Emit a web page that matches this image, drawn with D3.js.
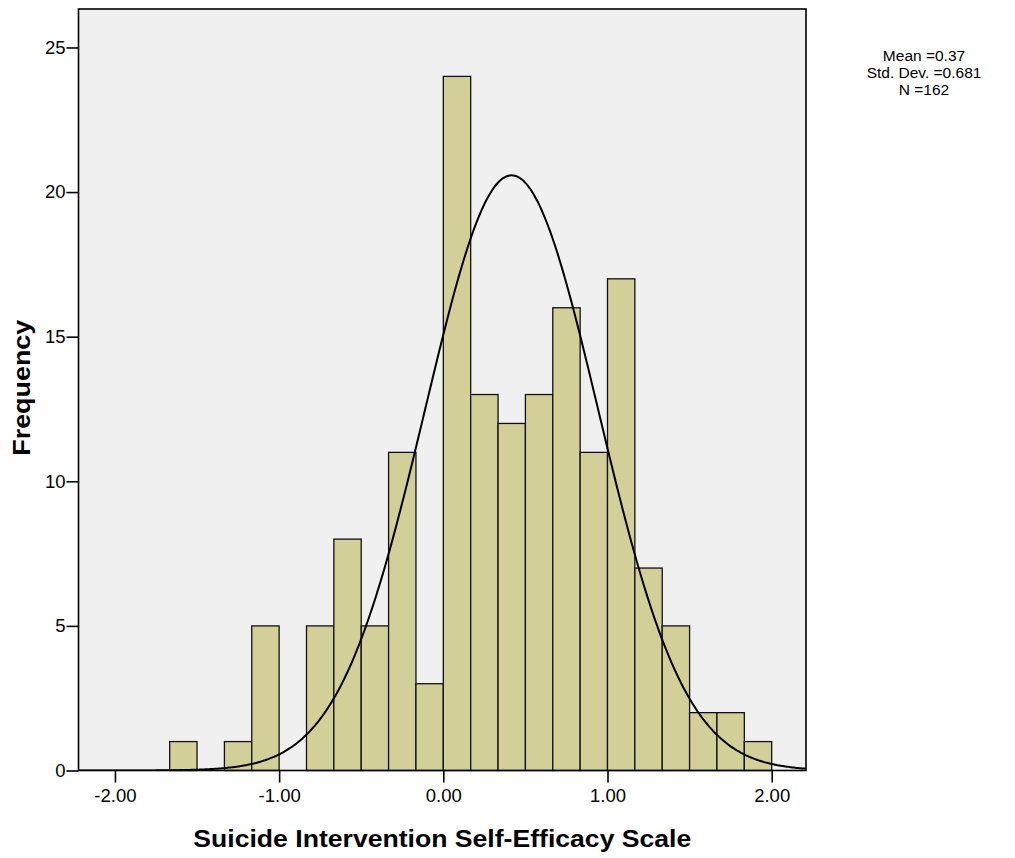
<!DOCTYPE html>
<html>
<head>
<meta charset="utf-8">
<script src="https://cdn.jsdelivr.net/npm/d3@7"></script>
<style>
  html, body { margin: 0; padding: 0; background: #ffffff; }
  svg { display: block; font-family: "Liberation Sans", Arial, sans-serif; }
</style>
</head>
<body>
<svg id="chart" width="1015" height="858"></svg>
<script>
// Histogram bins: lower edge of each bin (width 1/6) and its count
const binStart = [-1.6667, -1.5, -1.3333, -1.1667, -1.0, -0.8333, -0.6667, -0.5, -0.3333, -0.1667,
                  0.0, 0.1667, 0.3333, 0.5, 0.6667, 0.8333, 1.0, 1.1667, 1.3333, 1.5, 1.6667, 1.8333];
const binCount = [1, 0, 1, 5, 0, 5, 8, 5, 11, 3,
                  24, 13, 12, 13, 16, 11, 17, 7, 5, 2, 2, 1];
const binWidth = 1 / 6;

// Axis ticks
const xTicks = [-2, -1, 0, 1, 2];
const yTicks = [0, 5, 10, 15, 20, 25];

// Summary statistics shown at the top right
const statLines = ["Mean =0.37", "Std. Dev. =0.681", "N =162"];

// Fitted normal curve as drawn on the axis (centre, spread, peak height)
const curveCentre = 0.416;
const curveSpread = 0.527;
const curvePeak = 20.58;

const svg = d3.select("#chart");
const plot = { left: 78.5, right: 806, top: 9, bottom: 770.5 };

const x = d3.scaleLinear().domain([-2.222, 2.209]).range([plot.left, plot.right]);
const y = d3.scaleLinear().domain([0, 26.33]).range([plot.bottom, plot.top]);

// Plot background
svg.append("rect")
  .attr("x", plot.left).attr("y", plot.top)
  .attr("width", plot.right - plot.left).attr("height", plot.bottom - plot.top)
  .attr("fill", "#f0f0f0");

svg.append("clipPath").attr("id", "plotclip")
  .append("rect")
  .attr("x", plot.left).attr("y", plot.top)
  .attr("width", plot.right - plot.left).attr("height", plot.bottom - plot.top);

// Bars
svg.append("g").selectAll("rect")
  .data(binStart.map((s, i) => ({ s, c: binCount[i] })).filter(d => d.c > 0))
  .join("rect")
  .attr("x", d => x(d.s))
  .attr("y", d => y(d.c))
  .attr("width", d => x(d.s + binWidth) - x(d.s))
  .attr("height", d => y(0) - y(d.c))
  .attr("fill", "#d3cf98")
  .attr("stroke", "#111")
  .attr("stroke-width", 1.3);

// Normal curve
const curveXs = d3.range(0, 401).map(i => x.domain()[0] + (x.domain()[1] - x.domain()[0]) * i / 400);
const line = d3.line()
  .x(d => x(d))
  .y(d => y(curvePeak * Math.exp(-((d - curveCentre) ** 2) / (2 * curveSpread ** 2))))
  .curve(d3.curveBasis);
svg.append("path")
  .datum(curveXs)
  .attr("d", line)
  .attr("fill", "none")
  .attr("stroke", "#000")
  .attr("stroke-width", 2)
  .attr("clip-path", "url(#plotclip)");

// Frame
svg.append("rect")
  .attr("x", plot.left).attr("y", plot.top)
  .attr("width", plot.right - plot.left).attr("height", plot.bottom - plot.top)
  .attr("fill", "none").attr("stroke", "#000").attr("stroke-width", 1.6);

// Axes
const xAxis = d3.axisBottom(x).tickValues(xTicks).tickFormat(d => d.toFixed(2))
  .tickSize(12).tickSizeOuter(0).tickPadding(6);
const gx = svg.append("g").attr("transform", `translate(0,${plot.bottom})`).call(xAxis);
gx.select(".domain").remove();
gx.selectAll("line").attr("stroke", "#000").attr("stroke-width", 1.6);
gx.selectAll("text").attr("fill", "#000").style("font-size", "18.5px")
  .style("font-family", "'Liberation Sans', Arial, sans-serif");

const yAxis = d3.axisLeft(y).tickValues(yTicks).tickFormat(d => String(d))
  .tickSize(12).tickSizeOuter(0).tickPadding(1);
const gy = svg.append("g").attr("transform", `translate(${plot.left},0)`).call(yAxis);
gy.select(".domain").remove();
gy.selectAll("line").attr("stroke", "#000").attr("stroke-width", 1.6);
gy.selectAll("text").attr("fill", "#000").style("font-size", "18.5px")
  .style("font-family", "'Liberation Sans', Arial, sans-serif");

// Axis titles
svg.append("text")
  .attr("x", x(0) - 1).attr("y", 847)
  .attr("text-anchor", "middle")
  .attr("textLength", 498).attr("lengthAdjust", "spacingAndGlyphs")
  .style("font-size", "24.5px").style("font-weight", "bold")
  .text("Suicide Intervention Self-Efficacy Scale");

svg.append("text")
  .attr("transform", `translate(30,${(plot.top + plot.bottom) / 2 - 2}) rotate(-90)`)
  .attr("text-anchor", "middle")
  .attr("textLength", 136).attr("lengthAdjust", "spacingAndGlyphs")
  .style("font-size", "23.5px").style("font-weight", "bold")
  .text("Frequency");

// Statistics block
svg.append("g").selectAll("text")
  .data(statLines)
  .join("text")
  .attr("x", 924)
  .attr("y", (d, i) => 61 + i * 17)
  .attr("text-anchor", "middle")
  .style("font-size", "15.5px")
  .text(d => d);
</script>
</body>
</html>
